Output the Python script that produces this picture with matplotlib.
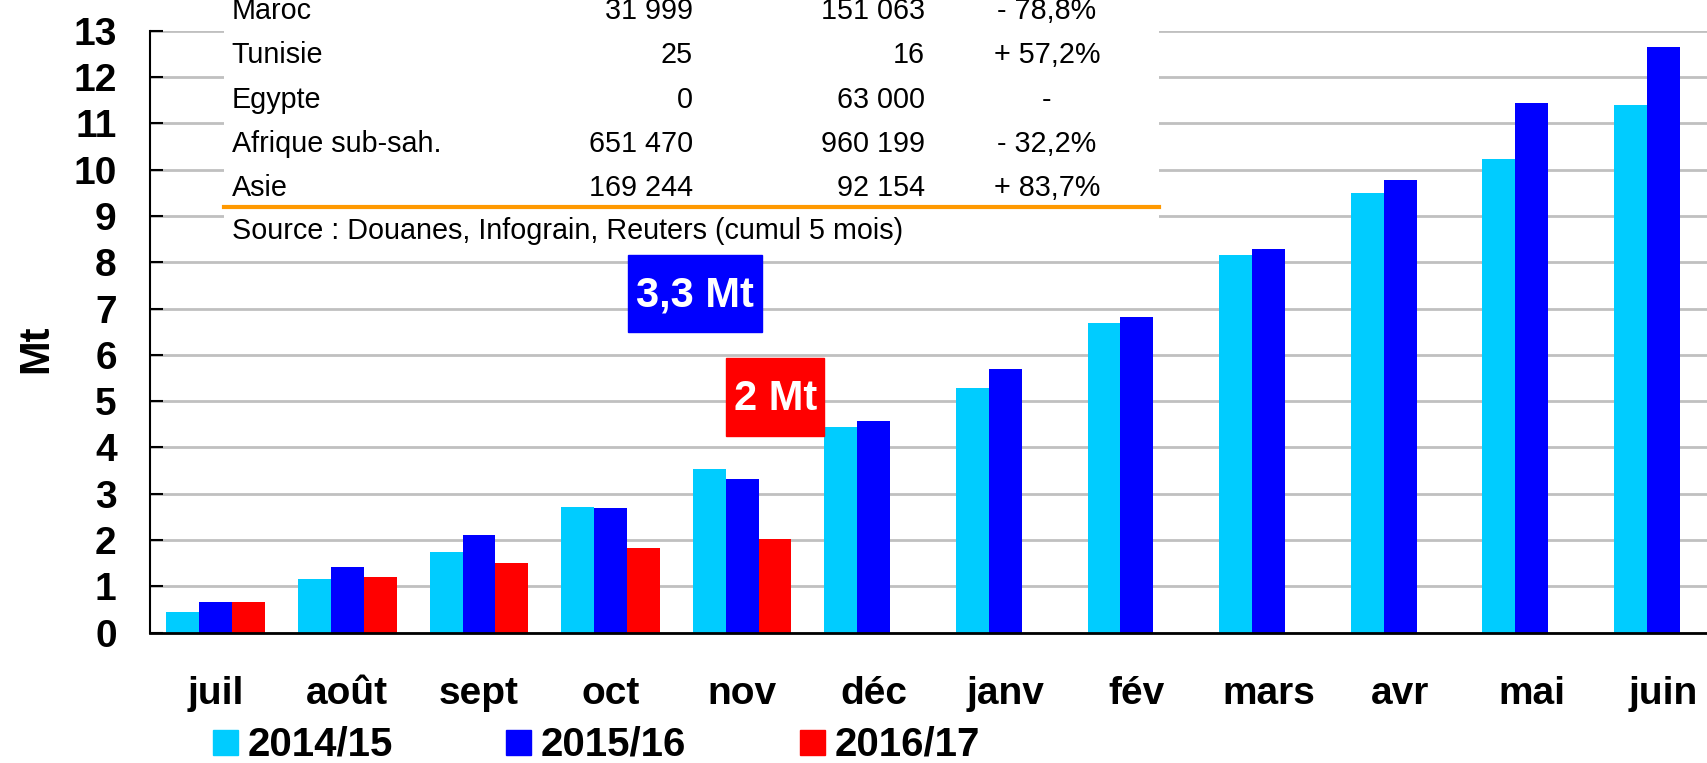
import numpy as np
import matplotlib
matplotlib.use("Agg")
import matplotlib.pyplot as plt
from matplotlib.patches import Rectangle
from matplotlib.lines import Line2D

plt.rcParams['font.family'] = ['Liberation Sans', 'DejaVu Sans']

# data
months = ['juil', 'août', 'sept', 'oct', 'nov', 'déc',
          'janv', 'fév', 'mars', 'avr', 'mai', 'juin']
seasons = ['2014/15', '2015/16', '2016/17']
v_1415 = [0.45, 1.16, 1.74, 2.71, 3.54, 4.44, 5.29, 6.69, 8.16, 9.49, 10.23, 11.40]
v_1516 = [0.66, 1.42, 2.11, 2.69, 3.32, 4.57, 5.70, 6.82, 8.28, 9.78, 11.44, 12.64]
v_1617 = [0.66, 1.20, 1.51, 1.83, 2.02]
colors = ['#00CCFF', '#0000FF', '#FF0000']

tab_pays = ['Maroc', 'Tunisie', 'Egypte', 'Afrique sub-sah.', 'Asie']
tab_col1 = ['31 999', '25', '0', '651 470', '169 244']
tab_col2 = ['151 063', '16', '63 000', '960 199', '92 154']
tab_var = ['- 78,8%', '+ 57,2%', '-', '- 32,2%', '+ 83,7%']
source = 'Source : Douanes, Infograin, Reuters (cumul 5 mois)'

W, H = 1708, 763
fig = plt.figure(figsize=(W / 100, H / 100), dpi=100)

def fx(px):
    return px / W

def fy(py):
    return (H - py) / H

ax = fig.add_axes([fx(150), fy(632.7), fx(W - 150), (632.7 - 30.7) / H])

x = np.arange(len(months))
w = 0.25
ax.bar(x - w, v_1415, w, color=colors[0], zorder=2)
ax.bar(x, v_1516, w, color=colors[1], zorder=2)
ax.bar(x[:len(v_1617)] + w, v_1617, w, color=colors[2], zorder=2)

ax.set_xlim(-0.5, 11.34)
ax.set_ylim(0, 13)
ax.set_yticks(range(0, 14))
ax.set_yticklabels([str(i) for i in range(14)], fontweight='bold')
ax.set_xticks(x)
ax.set_xticklabels(months, fontweight='bold')
ax.tick_params(axis='y', direction='in', length=9.5, width=1.5, pad=24, labelsize=28)
ax.tick_params(axis='x', length=0, pad=31, labelsize=28)
ax.yaxis.grid(True, color='#c0c0c0', lw=2)
ax.set_axisbelow(True)
for s in ['top', 'right']:
    ax.spines[s].set_visible(False)
ax.spines['left'].set_linewidth(1.5)
ax.spines['bottom'].set_linewidth(2)

fig.text(fx(36), fy(349), 'Mt', rotation=90, ha='center', va='center',
         fontsize=30, fontweight='bold')

# annotation boxes
ax.add_patch(Rectangle((3.134, 6.50), 1.019, 1.66, color='#0000FF', zorder=4))
ax.text(3.644, 7.035, '3,3 Mt', color='white', fontsize=30, fontweight='bold',
        ha='center', va='baseline', zorder=5)
ax.add_patch(Rectangle((3.879, 4.255), 0.745, 1.675, color='#FF0000', zorder=4))
ax.text(4.252, 4.81, '2 Mt', color='white', fontsize=30, fontweight='bold',
        ha='center', va='baseline', zorder=5)

# table overlay
fig.patches.append(Rectangle((fx(224), fy(252)), fx(1159 - 224), 252 / H,
                             transform=fig.transFigure, facecolor='white',
                             edgecolor='none', zorder=1))
fs_tab = 20.7
baselines = [19.3, 62.7, 108, 151.7, 196]
for i, yb in enumerate(baselines):
    fig.text(fx(231.7), fy(yb), tab_pays[i], fontsize=fs_tab, va='baseline', ha='left')
    fig.text(fx(693), fy(yb), tab_col1[i], fontsize=fs_tab, va='baseline', ha='right')
    fig.text(fx(925), fy(yb), tab_col2[i], fontsize=fs_tab, va='baseline', ha='right')
    fig.text(fx(1047), fy(yb), tab_var[i], fontsize=fs_tab, va='baseline', ha='center')
fig.lines.append(Line2D([fx(224), fx(1159)], [fy(206.7), fy(206.7)],
                        transform=fig.transFigure, color='#FF9900', lw=3, zorder=2))
fig.text(fx(231.7), fy(239), source, fontsize=fs_tab, va='baseline', ha='left')

# legend
leg_x = [213, 506, 800]
leg_base = 755
for lx, lab, c in zip(leg_x, seasons, colors):
    fig.patches.append(Rectangle((fx(lx), fy(leg_base)), fx(25), 25 / H,
                                 transform=fig.transFigure, color=c, zorder=2))
    fig.text(fx(lx + 35), fy(leg_base), lab, fontsize=29, fontweight='bold',
             va='baseline', ha='left')

fig.savefig('out.png', dpi=100)
